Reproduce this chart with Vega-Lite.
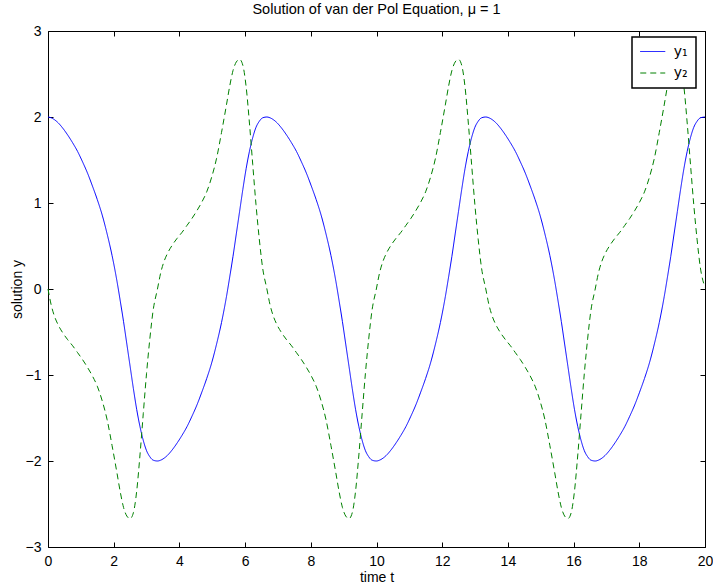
{
  "$schema": "https://vega.github.io/schema/vega-lite/v6.json",
  "width": 657,
  "height": 516,
  "autosize": "none",
  "padding": {"left": 48, "top": 31, "right": 8, "bottom": 38},
  "background": "white",
  "title": {
    "text": "Solution of van der Pol Equation, μ = 1",
    "font": "Liberation Sans",
    "fontSize": 14.5,
    "fontWeight": "normal",
    "color": "black",
    "anchor": "middle",
    "frame": "group",
    "baseline": "alphabetic",
    "offset": -4
  },
  "data": {
    "values": [
      {"t": 0.000, "y1": 2.000, "y2": 0.000},
      {"t": 0.100, "y1": 1.990, "y2": -0.190},
      {"t": 0.200, "y1": 1.968, "y2": -0.320},
      {"t": 0.300, "y1": 1.936, "y2": -0.410},
      {"t": 0.450, "y1": 1.870, "y2": -0.510},
      {"t": 0.600, "y1": 1.790, "y2": -0.590},
      {"t": 0.750, "y1": 1.700, "y2": -0.660},
      {"t": 0.900, "y1": 1.600, "y2": -0.740},
      {"t": 1.050, "y1": 1.480, "y2": -0.820},
      {"t": 1.200, "y1": 1.350, "y2": -0.910},
      {"t": 1.350, "y1": 1.200, "y2": -1.010},
      {"t": 1.500, "y1": 1.040, "y2": -1.130},
      {"t": 1.650, "y1": 0.860, "y2": -1.300},
      {"t": 1.800, "y1": 0.640, "y2": -1.520},
      {"t": 1.950, "y1": 0.390, "y2": -1.820},
      {"t": 2.100, "y1": 0.090, "y2": -2.140},
      {"t": 2.200, "y1": -0.140, "y2": -2.360},
      {"t": 2.300, "y1": -0.380, "y2": -2.540},
      {"t": 2.400, "y1": -0.640, "y2": -2.640},
      {"t": 2.500, "y1": -0.900, "y2": -2.670},
      {"t": 2.600, "y1": -1.160, "y2": -2.600},
      {"t": 2.700, "y1": -1.400, "y2": -2.350},
      {"t": 2.800, "y1": -1.600, "y2": -1.930},
      {"t": 2.900, "y1": -1.760, "y2": -1.450},
      {"t": 3.000, "y1": -1.880, "y2": -0.980},
      {"t": 3.100, "y1": -1.950, "y2": -0.580},
      {"t": 3.200, "y1": -1.990, "y2": -0.250},
      {"t": 3.332, "y1": -2.000, "y2": 0.000},
      {"t": 3.432, "y1": -1.990, "y2": 0.190},
      {"t": 3.532, "y1": -1.968, "y2": 0.320},
      {"t": 3.632, "y1": -1.936, "y2": 0.410},
      {"t": 3.782, "y1": -1.870, "y2": 0.510},
      {"t": 3.932, "y1": -1.790, "y2": 0.590},
      {"t": 4.082, "y1": -1.700, "y2": 0.660},
      {"t": 4.232, "y1": -1.600, "y2": 0.740},
      {"t": 4.382, "y1": -1.480, "y2": 0.820},
      {"t": 4.532, "y1": -1.350, "y2": 0.910},
      {"t": 4.682, "y1": -1.200, "y2": 1.010},
      {"t": 4.832, "y1": -1.040, "y2": 1.130},
      {"t": 4.982, "y1": -0.860, "y2": 1.300},
      {"t": 5.132, "y1": -0.640, "y2": 1.520},
      {"t": 5.282, "y1": -0.390, "y2": 1.820},
      {"t": 5.432, "y1": -0.090, "y2": 2.140},
      {"t": 5.532, "y1": 0.140, "y2": 2.360},
      {"t": 5.632, "y1": 0.380, "y2": 2.540},
      {"t": 5.732, "y1": 0.640, "y2": 2.640},
      {"t": 5.832, "y1": 0.900, "y2": 2.670},
      {"t": 5.932, "y1": 1.160, "y2": 2.600},
      {"t": 6.032, "y1": 1.400, "y2": 2.350},
      {"t": 6.132, "y1": 1.600, "y2": 1.930},
      {"t": 6.232, "y1": 1.760, "y2": 1.450},
      {"t": 6.332, "y1": 1.880, "y2": 0.980},
      {"t": 6.432, "y1": 1.950, "y2": 0.580},
      {"t": 6.532, "y1": 1.990, "y2": 0.250},
      {"t": 6.663, "y1": 2.000, "y2": 0.000},
      {"t": 6.763, "y1": 1.990, "y2": -0.190},
      {"t": 6.863, "y1": 1.968, "y2": -0.320},
      {"t": 6.963, "y1": 1.936, "y2": -0.410},
      {"t": 7.113, "y1": 1.870, "y2": -0.510},
      {"t": 7.263, "y1": 1.790, "y2": -0.590},
      {"t": 7.413, "y1": 1.700, "y2": -0.660},
      {"t": 7.563, "y1": 1.600, "y2": -0.740},
      {"t": 7.713, "y1": 1.480, "y2": -0.820},
      {"t": 7.863, "y1": 1.350, "y2": -0.910},
      {"t": 8.013, "y1": 1.200, "y2": -1.010},
      {"t": 8.163, "y1": 1.040, "y2": -1.130},
      {"t": 8.313, "y1": 0.860, "y2": -1.300},
      {"t": 8.463, "y1": 0.640, "y2": -1.520},
      {"t": 8.613, "y1": 0.390, "y2": -1.820},
      {"t": 8.763, "y1": 0.090, "y2": -2.140},
      {"t": 8.863, "y1": -0.140, "y2": -2.360},
      {"t": 8.963, "y1": -0.380, "y2": -2.540},
      {"t": 9.063, "y1": -0.640, "y2": -2.640},
      {"t": 9.163, "y1": -0.900, "y2": -2.670},
      {"t": 9.263, "y1": -1.160, "y2": -2.600},
      {"t": 9.363, "y1": -1.400, "y2": -2.350},
      {"t": 9.463, "y1": -1.600, "y2": -1.930},
      {"t": 9.563, "y1": -1.760, "y2": -1.450},
      {"t": 9.663, "y1": -1.880, "y2": -0.980},
      {"t": 9.763, "y1": -1.950, "y2": -0.580},
      {"t": 9.863, "y1": -1.990, "y2": -0.250},
      {"t": 9.995, "y1": -2.000, "y2": 0.000},
      {"t": 10.095, "y1": -1.990, "y2": 0.190},
      {"t": 10.195, "y1": -1.968, "y2": 0.320},
      {"t": 10.295, "y1": -1.936, "y2": 0.410},
      {"t": 10.445, "y1": -1.870, "y2": 0.510},
      {"t": 10.595, "y1": -1.790, "y2": 0.590},
      {"t": 10.745, "y1": -1.700, "y2": 0.660},
      {"t": 10.895, "y1": -1.600, "y2": 0.740},
      {"t": 11.045, "y1": -1.480, "y2": 0.820},
      {"t": 11.195, "y1": -1.350, "y2": 0.910},
      {"t": 11.345, "y1": -1.200, "y2": 1.010},
      {"t": 11.495, "y1": -1.040, "y2": 1.130},
      {"t": 11.645, "y1": -0.860, "y2": 1.300},
      {"t": 11.795, "y1": -0.640, "y2": 1.520},
      {"t": 11.945, "y1": -0.390, "y2": 1.820},
      {"t": 12.095, "y1": -0.090, "y2": 2.140},
      {"t": 12.195, "y1": 0.140, "y2": 2.360},
      {"t": 12.295, "y1": 0.380, "y2": 2.540},
      {"t": 12.395, "y1": 0.640, "y2": 2.640},
      {"t": 12.495, "y1": 0.900, "y2": 2.670},
      {"t": 12.595, "y1": 1.160, "y2": 2.600},
      {"t": 12.695, "y1": 1.400, "y2": 2.350},
      {"t": 12.795, "y1": 1.600, "y2": 1.930},
      {"t": 12.895, "y1": 1.760, "y2": 1.450},
      {"t": 12.995, "y1": 1.880, "y2": 0.980},
      {"t": 13.095, "y1": 1.950, "y2": 0.580},
      {"t": 13.195, "y1": 1.990, "y2": 0.250},
      {"t": 13.327, "y1": 2.000, "y2": 0.000},
      {"t": 13.427, "y1": 1.990, "y2": -0.190},
      {"t": 13.527, "y1": 1.968, "y2": -0.320},
      {"t": 13.627, "y1": 1.936, "y2": -0.410},
      {"t": 13.777, "y1": 1.870, "y2": -0.510},
      {"t": 13.927, "y1": 1.790, "y2": -0.590},
      {"t": 14.077, "y1": 1.700, "y2": -0.660},
      {"t": 14.227, "y1": 1.600, "y2": -0.740},
      {"t": 14.377, "y1": 1.480, "y2": -0.820},
      {"t": 14.527, "y1": 1.350, "y2": -0.910},
      {"t": 14.677, "y1": 1.200, "y2": -1.010},
      {"t": 14.827, "y1": 1.040, "y2": -1.130},
      {"t": 14.977, "y1": 0.860, "y2": -1.300},
      {"t": 15.127, "y1": 0.640, "y2": -1.520},
      {"t": 15.277, "y1": 0.390, "y2": -1.820},
      {"t": 15.427, "y1": 0.090, "y2": -2.140},
      {"t": 15.527, "y1": -0.140, "y2": -2.360},
      {"t": 15.627, "y1": -0.380, "y2": -2.540},
      {"t": 15.727, "y1": -0.640, "y2": -2.640},
      {"t": 15.827, "y1": -0.900, "y2": -2.670},
      {"t": 15.927, "y1": -1.160, "y2": -2.600},
      {"t": 16.027, "y1": -1.400, "y2": -2.350},
      {"t": 16.127, "y1": -1.600, "y2": -1.930},
      {"t": 16.227, "y1": -1.760, "y2": -1.450},
      {"t": 16.327, "y1": -1.880, "y2": -0.980},
      {"t": 16.427, "y1": -1.950, "y2": -0.580},
      {"t": 16.527, "y1": -1.990, "y2": -0.250},
      {"t": 16.658, "y1": -2.000, "y2": 0.000},
      {"t": 16.758, "y1": -1.990, "y2": 0.190},
      {"t": 16.858, "y1": -1.968, "y2": 0.320},
      {"t": 16.958, "y1": -1.936, "y2": 0.410},
      {"t": 17.108, "y1": -1.870, "y2": 0.510},
      {"t": 17.258, "y1": -1.790, "y2": 0.590},
      {"t": 17.408, "y1": -1.700, "y2": 0.660},
      {"t": 17.558, "y1": -1.600, "y2": 0.740},
      {"t": 17.708, "y1": -1.480, "y2": 0.820},
      {"t": 17.858, "y1": -1.350, "y2": 0.910},
      {"t": 18.008, "y1": -1.200, "y2": 1.010},
      {"t": 18.158, "y1": -1.040, "y2": 1.130},
      {"t": 18.308, "y1": -0.860, "y2": 1.300},
      {"t": 18.458, "y1": -0.640, "y2": 1.520},
      {"t": 18.608, "y1": -0.390, "y2": 1.820},
      {"t": 18.758, "y1": -0.090, "y2": 2.140},
      {"t": 18.858, "y1": 0.140, "y2": 2.360},
      {"t": 18.958, "y1": 0.380, "y2": 2.540},
      {"t": 19.058, "y1": 0.640, "y2": 2.640},
      {"t": 19.158, "y1": 0.900, "y2": 2.670},
      {"t": 19.258, "y1": 1.160, "y2": 2.600},
      {"t": 19.358, "y1": 1.400, "y2": 2.350},
      {"t": 19.458, "y1": 1.600, "y2": 1.930},
      {"t": 19.558, "y1": 1.760, "y2": 1.450},
      {"t": 19.658, "y1": 1.880, "y2": 0.980},
      {"t": 19.758, "y1": 1.950, "y2": 0.580},
      {"t": 19.858, "y1": 1.990, "y2": 0.250},
      {"t": 20.000, "y1": 2.000, "y2": 0.020}
    ]
  },
  "transform": [{"fold": ["y1", "y2"], "as": ["series", "value"]}],
  "layer": [
    {
      "mark": {"type": "line", "interpolate": "monotone", "strokeWidth": 1},
      "encoding": {
        "x": {
          "field": "t", "type": "quantitative",
          "scale": {"domain": [0, 20], "nice": false, "zero": false},
          "axis": {
            "orient": "bottom",
            "values": [0, 2, 4, 6, 8, 10, 12, 14, 16, 18, 20],
            "title": "time t",
            "titleY": 34,
            "titleBaseline": "alphabetic",
            "labelPadding": 12
          }
        },
        "y": {
          "field": "value", "type": "quantitative",
          "scale": {"domain": [-3, 3], "nice": false, "zero": false},
          "axis": {
            "orient": "left",
            "values": [-3, -2, -1, 0, 1, 2, 3],
            "title": "solution y",
            "titleX": -27,
            "titleBaseline": "alphabetic",
            "labelPadding": 12
          }
        },
        "color": {
          "field": "series", "type": "nominal",
          "scale": {"domain": ["y1", "y2"], "range": ["#0000ff", "#008000"]},
          "legend": {
            "orient": "none",
            "legendX": 584,
            "legendY": 6,
            "title": null,
            "labelExpr": "datum.label == 'y1' ? 'y₁' : 'y₂'"
          }
        },
        "strokeDash": {
          "field": "series", "type": "nominal",
          "scale": {"domain": ["y1", "y2"], "range": [[1, 0], [6, 4]]},
          "legend": {
            "orient": "none",
            "legendX": 584,
            "legendY": 6,
            "title": null,
            "labelExpr": "datum.label == 'y1' ? 'y₁' : 'y₂'"
          }
        }
      }
    },
    {
      "mark": {"type": "line", "strokeOpacity": 0, "opacity": 0},
      "encoding": {
        "x": {
          "field": "t", "type": "quantitative",
          "axis": {"orient": "top", "values": [0, 2, 4, 6, 8, 10, 12, 14, 16, 18, 20], "labels": false, "title": null}
        },
        "y": {
          "field": "value", "type": "quantitative",
          "axis": {"orient": "right", "values": [-3, -2, -1, 0, 1, 2, 3], "labels": false, "title": null}
        }
      }
    }
  ],
  "resolve": {"axis": {"x": "independent", "y": "independent"}},
  "config": {
    "view": {"stroke": null},
    "font": "Liberation Sans",
    "axis": {
      "grid": false,
      "domainColor": "black",
      "domainWidth": 1,
      "tickColor": "black",
      "tickSize": -5,
      "tickWidth": 1,
      "labelColor": "black",
      "labelFont": "Liberation Sans",
      "labelFontSize": 14,
      "labelFlush": false,
      "labelOverlap": false,
      "titleColor": "black",
      "titleFont": "Liberation Sans",
      "titleFontSize": 14,
      "titleFontWeight": "normal"
    },
    "legend": {
      "fillColor": "white",
      "strokeColor": "black",
      "strokeWidth": 1.5,
      "padding": 7.5,
      "symbolType": "M-2,0H2",
      "symbolSize": 156,
      "symbolOffset": 6.25,
      "symbolStrokeWidth": 1,
      "labelFont": "DejaVu Sans",
      "labelFontSize": 14,
      "labelColor": "black",
      "labelOffset": 14,
      "rowPadding": 7.5
    }
  }
}
